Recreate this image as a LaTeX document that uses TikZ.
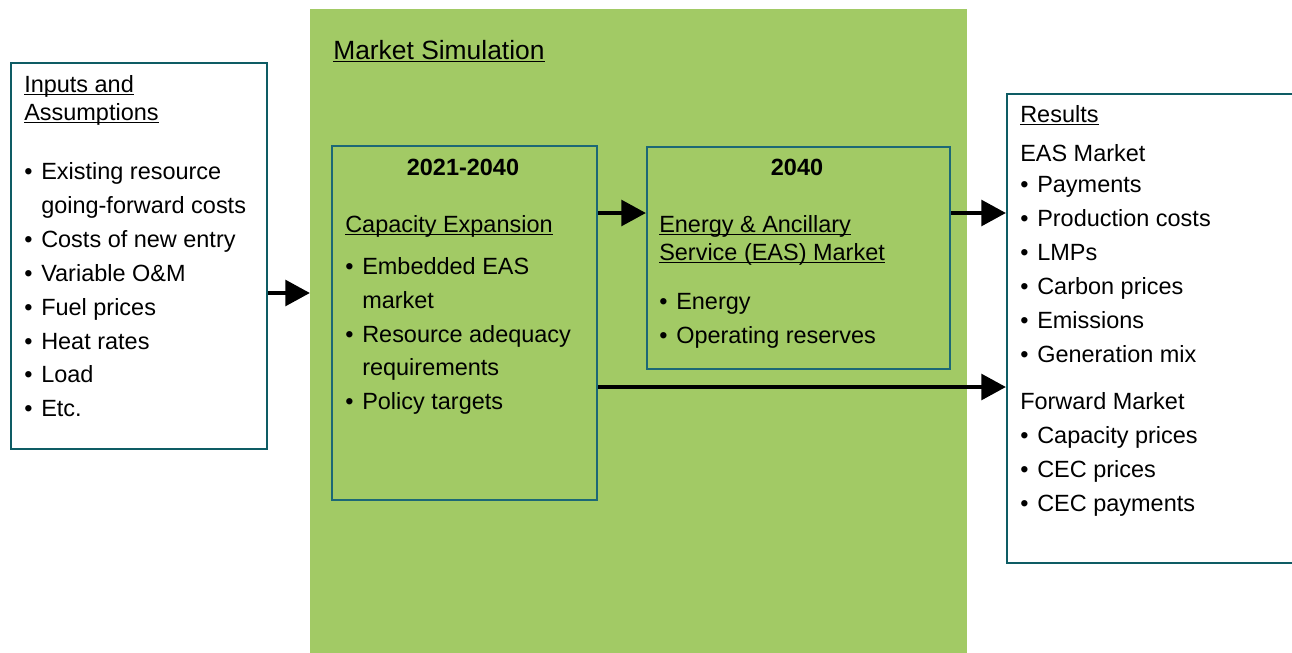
\documentclass[tikz,border=0pt]{standalone}
\usepackage{fontspec}
\setmainfont{Liberation Sans}
\usetikzlibrary{arrows.meta,calc}
\definecolor{simgreen}{RGB}{162,202,101}
\definecolor{outerteal}{RGB}{14,92,100}
\definecolor{innerteal}{RGB}{28,104,118}
\newcommand\myul[1]{\setbox0\hbox{#1}\rlap{\rule[-2.4pt]{\wd0}{0.9pt}}\box0}
\newcommand\bitem[4]{\node[txt] (#1) at (#2,#3) {\makebox[12.75pt][l]{\textbullet}#4};}
\begin{document}
\begin{tikzpicture}[x=0.75pt,y=-0.75pt,
  txt/.style={inner sep=0pt,anchor=base west,font=\fontsize{17.6}{21}\selectfont},
  ttxt/.style={inner sep=0pt,anchor=base west,font=\fontsize{19.8}{24}\selectfont},
  ctxt/.style={inner sep=0pt,anchor=base,font=\fontsize{17.6}{21}\selectfont\bfseries},
  outerbox/.style={draw=outerteal,line width=1.5pt,fill=white,inner sep=0pt,anchor=north west},
  innerbox/.style={draw=innerteal,line width=1.5pt,inner sep=0pt,anchor=north west},
  arr/.style={line width=3.6pt,-{Triangle[length=18.5pt,width=19pt]}}]
\useasboundingbox (0,0) rectangle (1292,653);
\clip (0,0) rectangle (1292,653);
\fill[white] (0,0) rectangle (1292,653);
% market simulation background
\node[fill=simgreen,inner sep=0pt,anchor=north west,minimum width=492.75pt,minimum height=483pt] (sim) at (310,9) {};
% boxes
\node[outerbox,minimum width=192pt,minimum height=289.5pt] (inp) at (10,62) {};
\node[innerbox,minimum width=198.75pt,minimum height=265.5pt] (cap) at (331,145) {};
\node[innerbox,minimum width=227.25pt,minimum height=166.5pt] (eas) at (646,146) {};
\node[outerbox,minimum width=230pt,minimum height=351.75pt] (res) at (1006,93) {};
% arrows
\coordinate (y1) at (0,293);
\coordinate (y2) at (0,213);
\coordinate (y3) at (0,387);
\draw[arr] (inp.east |- y1) -- (sim.west |- y1);
\draw[arr] (cap.east |- y2) -- (eas.west |- y2);
\draw[arr] (eas.east |- y2) -- (res.west |- y2);
\draw[arr] (cap.east |- y3) -- (res.west |- y3);
% inputs text
\node[txt] (inh1) at (24,92) {\myul{Inputs and}};
\node[txt] (inh2) at (24,120) {\myul{Assumptions}};
\bitem{in1}{24}{179}{Existing resource}
\node[txt] (in1b) at (41,213) {going-forward costs};
\bitem{in2}{24}{247}{Costs of new entry}
\bitem{in3}{24}{281}{Variable O\&M}
\bitem{in4}{24}{315}{Fuel prices}
\bitem{in5}{24}{349}{Heat rates}
\bitem{in6}{24}{382}{Load}
\bitem{in7}{24}{416}{Etc.}
% market simulation title
\node[ttxt] (simt) at (333,59) {\myul{Market Simulation}};
% capacity expansion box text
\node[ctxt] (capy) at (463,175) {2021-2040};
\node[txt] (capt) at (345,232) {\myul{Capacity Expansion}};
\bitem{cap1}{345}{274}{Embedded EAS}
\node[txt] (cap1b) at (362,308) {market};
\bitem{cap2}{345}{342}{Resource adequacy}
\node[txt] (cap2b) at (362,375) {requirements};
\bitem{cap3}{345}{409}{Policy targets}
% EAS box text
\node[ctxt] (easy) at (797,175) {2040};
\node[txt] (east1) at (659,232) {\myul{Energy \& Ancillary}};
\node[txt] (east2) at (659,260) {\myul{Service (EAS) Market}};
\bitem{eas1}{659}{309}{Energy}
\bitem{eas2}{659}{343}{Operating reserves}
% results text
\node[txt] (resh) at (1020,122) {\myul{Results}};
\node[txt] (resa) at (1020,161) {EAS Market};
\bitem{r1}{1020}{192}{Payments}
\bitem{r2}{1020}{226}{Production costs}
\bitem{r3}{1020}{260}{LMPs}
\bitem{r4}{1020}{294}{Carbon prices}
\bitem{r5}{1020}{328}{Emissions}
\bitem{r6}{1020}{362}{Generation mix}
\node[txt] (resf) at (1020,409) {Forward Market};
\bitem{r7}{1020}{443}{Capacity prices}
\bitem{r8}{1020}{477}{CEC prices}
\bitem{r9}{1020}{511}{CEC payments}
\end{tikzpicture}
\end{document}
